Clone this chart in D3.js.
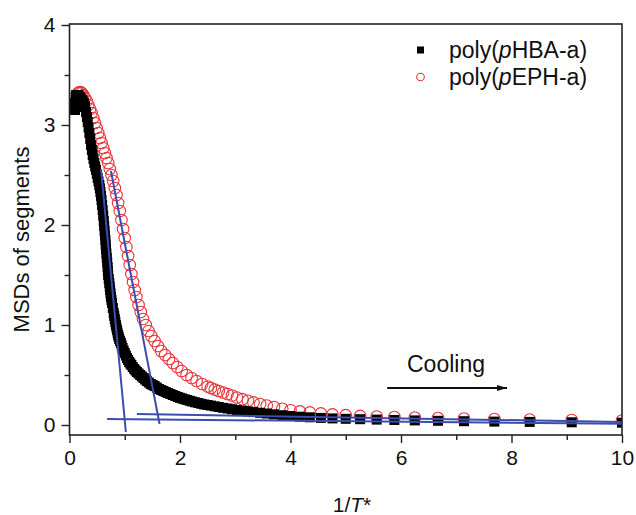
<!DOCTYPE html>
<html>
<head>
<meta charset="utf-8">
<script src="https://cdn.jsdelivr.net/npm/d3@7"></script>
<style>
  html, body { margin: 0; padding: 0; background: #fff; }
  svg { display: block; font-family: "Liberation Sans", Arial, sans-serif; }
</style>
</head>
<body>
<svg id="chart" width="636" height="515"></svg>
<script>
// ---- data ----
const xTicks = [0, 2, 4, 6, 8, 10];
const yTicks = [0, 1, 2, 3, 4];
const xMinorTicks = [1, 3, 5, 7, 9];
const yMinorTicks = [0.5, 1.5, 2.5, 3.5];

const seriesNames = ["poly(pHBA-a)", "poly(pEPH-a)"];

// poly(pHBA-a) — filled black squares
const hbaX = [0.10,0.10,0.11,0.12,0.12,0.13,0.14,0.15,0.16,0.17,0.18,0.20,0.22,0.24,0.26,0.28,
  0.30,0.315,0.33,0.345,0.36,0.375,0.39,0.405,0.42,0.435,0.45,0.465,0.48,0.495,0.51,0.525,0.54,0.55,0.56,0.57,
  0.58,0.59,0.60,0.61,0.62,0.628,0.635,0.643,0.65,0.655,0.66,0.668,0.675,0.683,0.69,0.695,0.70,0.71,0.72,0.728,
  0.735,0.743,0.75,0.76,0.77,0.785,
  0.80,0.81,0.82,0.83,0.84,0.85,0.86,0.87,0.88,0.89,0.90,0.915,
  0.93,0.945,0.96,0.98,1.00,1.02,1.04,1.06,1.08,1.10,1.12,1.145,1.17,1.195,1.22,1.25,1.28,1.31,1.34,1.37,
  1.40,1.435,1.47,1.505,1.54,1.58,1.62,1.66,1.70,1.74,1.78,1.825,1.87,1.915,1.96,2.00,2.04,2.085,2.13,2.175,
  2.22,2.275,2.33,2.385,2.44,
  2.50,2.56,2.63,2.70,2.78,2.86,2.94,3.03,3.13,3.23,3.33,3.45,3.57,3.70,3.85,4.00,4.17,4.35,4.55,4.76,
  5.00,5.26,5.56,5.88,6.25,6.67,7.14,7.69,8.33,9.09,10.00];
const hbaY = [3.15,3.22,3.28,3.18,3.30,3.24,3.29,3.21,3.30,3.26,3.28,3.27,3.25,3.24,3.22,3.19,
  3.13,3.08,3.03,2.975,2.92,2.86,2.80,2.75,2.70,2.66,2.62,2.585,2.55,2.51,2.47,2.435,2.40,2.365,2.33,2.29,
  2.25,2.20,2.15,2.095,2.04,1.99,1.94,1.895,1.85,1.805,1.76,1.715,1.67,1.625,1.58,1.54,1.50,1.46,1.42,1.385,
  1.35,1.315,1.28,1.25,1.22,1.17,
  1.12,1.09,1.06,1.03,1.00,0.975,0.95,0.925,0.90,0.88,0.86,0.84,
  0.82,0.795,0.77,0.745,0.72,0.695,0.67,0.65,0.63,0.615,0.60,0.58,0.56,0.545,0.53,0.515,0.50,0.485,0.47,0.455,
  0.44,0.425,0.41,0.40,0.39,0.375,0.36,0.35,0.34,0.33,0.32,0.31,0.30,0.29,0.28,0.272,0.265,0.257,0.25,0.242,
  0.235,0.227,0.22,0.212,0.205,
  0.200,0.194,0.187,0.180,0.172,0.165,0.158,0.150,0.143,0.136,0.129,0.122,0.115,0.107,0.098,0.090,0.083,0.077,0.071,0.066,
  0.062,0.058,0.054,0.050,0.046,0.042,0.038,0.034,0.031,0.027,0.023];

// poly(pEPH-a) — open red circles
const ephX = [0.14,0.16,0.18,0.20,0.22,0.25,0.28,0.31,0.34,0.37,0.40,0.43,0.46,0.49,0.52,0.55,0.58,0.61,0.64,0.67,
  0.70,0.73,0.76,0.79,0.82,0.85,0.88,0.91,0.94,0.97,1.00,1.03,1.06,1.09,1.12,1.15,1.18,1.21,1.25,1.29,
  1.33,1.38,1.43,1.48,1.54,1.60,1.66,1.73,1.80,1.87,1.95,2.03,2.12,2.21,2.30,2.40,
  2.50,2.56,2.63,2.70,2.78,2.86,2.94,3.03,3.13,3.23,3.33,3.45,3.57,3.70,3.85,4.00,4.17,4.35,4.55,4.76,
  5.00,5.26,5.56,5.88,6.25,6.67,7.14,7.69,8.33,9.09,10.00];
const ephY = [3.28,3.32,3.33,3.33,3.32,3.30,3.27,3.24,3.20,3.16,3.12,3.07,3.02,2.97,2.92,2.87,2.82,2.77,2.72,2.67,
  2.62,2.56,2.50,2.44,2.37,2.30,2.22,2.14,2.05,1.96,1.87,1.78,1.69,1.60,1.51,1.43,1.35,1.28,1.20,1.13,
  1.06,1.00,0.94,0.89,0.84,0.79,0.74,0.70,0.66,0.62,0.58,0.54,0.50,0.47,0.44,0.41,
  0.385,0.37,0.355,0.34,0.325,0.31,0.295,0.275,0.258,0.242,0.226,0.210,0.195,0.180,0.162,0.147,0.136,0.126,0.116,0.106,
  0.098,0.091,0.085,0.079,0.074,0.069,0.064,0.060,0.055,0.050,0.045];

// tangent lines (start x, start y, end x, end y)
const tangentX1 = [0.57, 0.75, 0.68, 1.22];
const tangentY1 = [2.56, 2.54, 0.06, 0.11];
const tangentX2 = [1.02, 1.63, 10.0, 10.0];
const tangentY2 = [-0.07, 0.01, 0.012, 0.03];

const annotationText = "Cooling";
const arrowX = [5.75, 7.92];
const arrowY = 0.37;

// ---- drawing ----
const svg = d3.select("#chart");
const mL = 69.5, mR = 622, mT = 24, mB = 435;
const x = d3.scaleLinear().domain([0, 10]).range([mL, mR]);
const y = d3.scaleLinear().domain([-0.1, 4.01]).range([mB, mT]);

const defs = svg.append("defs");
defs.append("clipPath").attr("id", "plotclip")
  .append("rect").attr("x", mL).attr("y", mT).attr("width", mR - mL).attr("height", mB - mT);

// data layer
const plot = svg.append("g").attr("clip-path", "url(#plotclip)");

const eph = ephX.map((v, i) => ({x: v, y: ephY[i]}));
const hba = hbaX.map((v, i) => ({x: v, y: hbaY[i]}));

plot.append("g").selectAll("circle").data(eph).join("circle")
  .attr("cx", d => x(d.x)).attr("cy", d => y(d.y)).attr("r", 5.8)
  .attr("fill", "none").attr("stroke", "#e8343a").attr("stroke-width", 1.1);

const sq = 10;
plot.append("g").selectAll("rect").data(hba).join("rect")
  .attr("x", d => x(d.x) - sq / 2).attr("y", d => y(d.y) - sq / 2)
  .attr("width", sq).attr("height", sq).attr("fill", "#000");

plot.append("g").selectAll("line").data(tangentX1.map((v, i) => i)).join("line")
  .attr("x1", i => x(tangentX1[i])).attr("y1", i => y(tangentY1[i]))
  .attr("x2", i => x(tangentX2[i])).attr("y2", i => y(tangentY2[i]))
  .attr("stroke", "#3a4ead").attr("stroke-width", 2);

// axes
const fontSize = 21;
const yAxis = d3.axisLeft(y).tickValues(yTicks).tickFormat(d3.format("d"))
  .tickSize(8).tickSizeOuter(0).tickPadding(6);
const gy = svg.append("g").attr("transform", `translate(${mL},0)`).call(yAxis);
gy.select(".domain").remove();
gy.selectAll("text").attr("font-size", fontSize).attr("fill", "#111").attr("font-family", "Liberation Sans, Arial, sans-serif");
gy.selectAll("line").attr("stroke", "#222").attr("stroke-width", 1.4);

const yMinor = d3.axisLeft(y).tickValues(yMinorTicks).tickFormat("").tickSize(5).tickSizeOuter(0);
const gym = svg.append("g").attr("transform", `translate(${mL},0)`).call(yMinor);
gym.select(".domain").remove();
gym.selectAll("line").attr("stroke", "#222").attr("stroke-width", 1.4);

const xAxis = d3.axisBottom(x).tickValues(xTicks).tickFormat(d3.format("d"))
  .tickSize(8).tickSizeOuter(0).tickPadding(7);
const gx = svg.append("g").attr("transform", `translate(0,${mB})`).call(xAxis);
gx.select(".domain").remove();
gx.selectAll("text").attr("font-size", fontSize).attr("fill", "#111").attr("font-family", "Liberation Sans, Arial, sans-serif");
gx.selectAll("line").attr("stroke", "#222").attr("stroke-width", 1.4);

const xMinor = d3.axisBottom(x).tickValues(xMinorTicks).tickFormat("").tickSize(5).tickSizeOuter(0);
const gxm = svg.append("g").attr("transform", `translate(0,${mB})`).call(xMinor);
gxm.select(".domain").remove();
gxm.selectAll("line").attr("stroke", "#222").attr("stroke-width", 1.4);

// frame
svg.append("rect").attr("x", mL).attr("y", mT).attr("width", mR - mL).attr("height", mB - mT)
  .attr("fill", "none").attr("stroke", "#222").attr("stroke-width", 1.6);

// axis titles
svg.append("text").attr("transform", `translate(29,${(mT + mB) / 2 + 10}) rotate(-90)`)
  .attr("text-anchor", "middle").attr("font-size", 22).attr("fill", "#111")
  .text("MSDs of segments");

const xt = svg.append("text").attr("x", 352).attr("y", 512).attr("text-anchor", "middle")
  .attr("font-size", 21).attr("fill", "#111");
xt.append("tspan").text("1/");
xt.append("tspan").attr("font-style", "italic").text("T");
xt.append("tspan").text("*");

// legend
const legend = svg.append("g");
const legendRows = [
  {name: seriesNames[0], y: 50},
  {name: seriesNames[1], y: 77}
];
legend.append("rect").attr("x", 417).attr("y", legendRows[0].y - 3.5).attr("width", 7).attr("height", 7).attr("fill", "#000");
legend.append("circle").attr("cx", 420.5).attr("cy", legendRows[1].y).attr("r", 3.8)
  .attr("fill", "none").attr("stroke", "#e8343a").attr("stroke-width", 1.1);
legendRows.forEach(r => {
  const t = legend.append("text").attr("x", 449).attr("y", r.y + 8).attr("font-size", 23).attr("fill", "#111");
  const m = r.name.match(/^(poly\()p(.*)$/);
  t.append("tspan").text(m[1]);
  t.append("tspan").attr("font-style", "italic").text("p");
  t.append("tspan").text(m[2]);
});

// annotation
svg.append("text").attr("x", 446).attr("y", 372).attr("text-anchor", "middle")
  .attr("font-size", 23).attr("fill", "#111").text(annotationText);

defs.append("marker").attr("id", "arrowhead")
  .attr("viewBox", "0 0 10 6").attr("refX", 10).attr("refY", 3)
  .attr("markerWidth", 11).attr("markerHeight", 6).attr("markerUnits", "userSpaceOnUse")
  .attr("orient", "auto")
  .append("path").attr("d", "M0,0 L10,3 L0,6 Z").attr("fill", "#111");

svg.append("line").attr("x1", x(arrowX[0])).attr("y1", y(arrowY))
  .attr("x2", x(arrowX[1])).attr("y2", y(arrowY))
  .attr("stroke", "#111").attr("stroke-width", 1.8).attr("marker-end", "url(#arrowhead)");
</script>
</body>
</html>
